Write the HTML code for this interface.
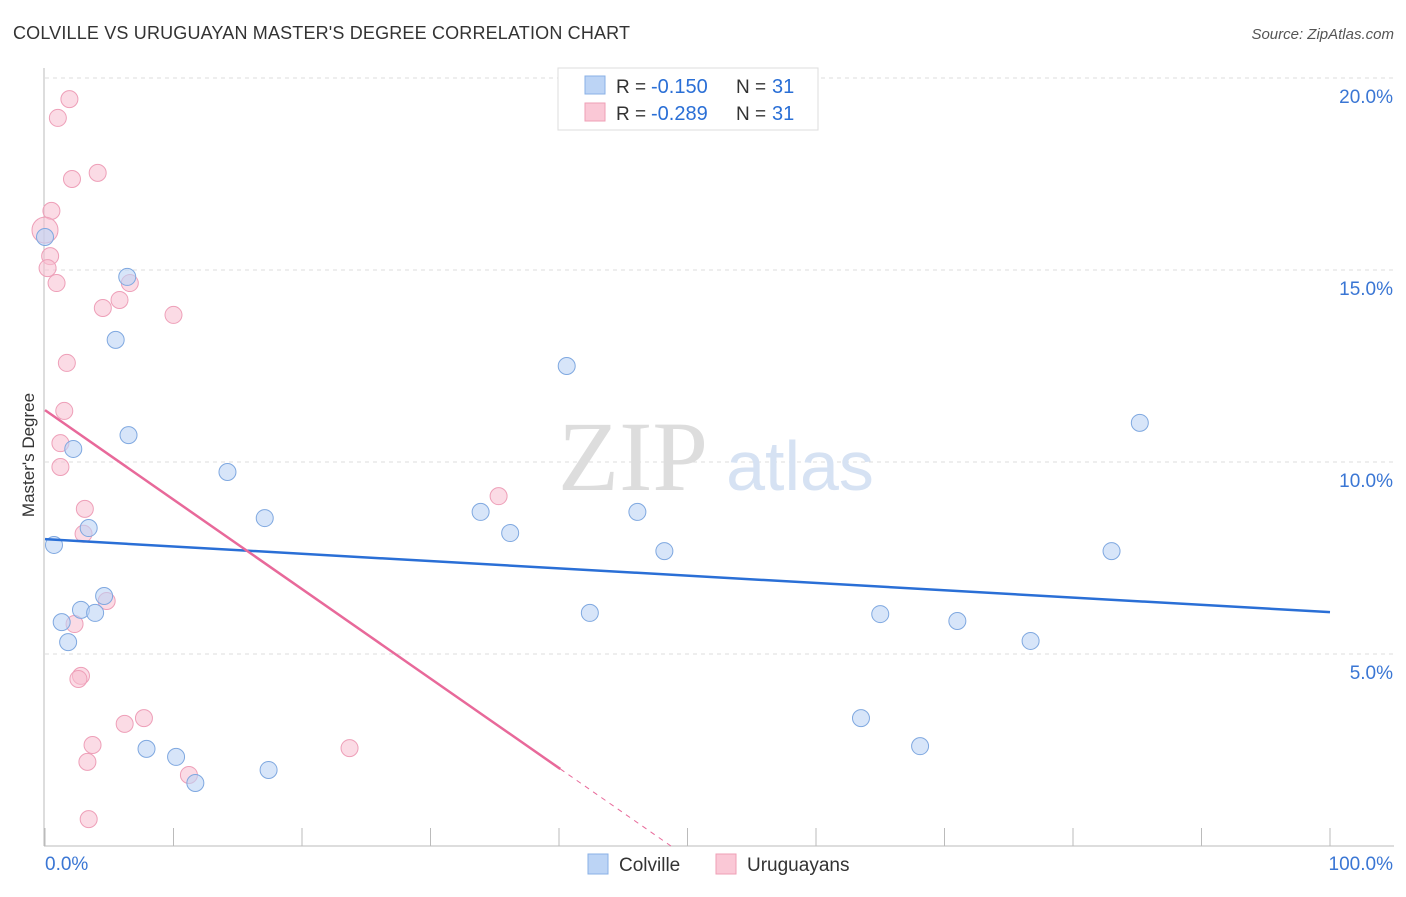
<!DOCTYPE html>
<html><head><meta charset="utf-8"><style>
body{margin:0;background:#fff;font-family:"Liberation Sans",sans-serif;}
</style></head><body>
<svg width="1406" height="892" xmlns="http://www.w3.org/2000/svg">
<text x="13" y="39" font-size="18" fill="#333" textLength="617">COLVILLE VS URUGUAYAN MASTER'S DEGREE CORRELATION CHART</text>
<text x="1394" y="39" font-size="15" fill="#555" font-style="italic" text-anchor="end">Source: ZipAtlas.com</text>
<g id="grid"></g>
<text x="633" y="490" font-size="100" fill="#ddd" font-family="Liberation Serif" text-anchor="middle">ZIP</text>
<text x="800" y="490" font-size="70" fill="#d6e2f3" text-anchor="middle">atlas</text>
<text transform="translate(34,455) rotate(-90)" font-size="17" fill="#333" text-anchor="middle">Master's Degree</text>
<g id="marks"></g>
<g>
<rect x="558" y="68" width="260" height="62" fill="#fff" stroke="#ddd"/>
<rect x="585" y="76" width="20" height="18" fill="#bcd4f5" stroke="#8ab0e6"/>
<rect x="585" y="103" width="20" height="18" fill="#fac8d6" stroke="#ef9fb6"/>
<text x="616" y="93" font-size="19" fill="#333">R =</text>
<text x="651" y="93" font-size="20" fill="#2a6fd6">-0.150</text>
<text x="736" y="93" font-size="19" fill="#333">N =</text>
<text x="772" y="93" font-size="20" fill="#2a6fd6">31</text>
<text x="616" y="120" font-size="19" fill="#333">R =</text>
<text x="651" y="120" font-size="20" fill="#2a6fd6">-0.289</text>
<text x="736" y="120" font-size="19" fill="#333">N =</text>
<text x="772" y="120" font-size="20" fill="#2a6fd6">31</text>
</g>
<g>
<rect x="588" y="854" width="20" height="20" fill="#bcd4f5" stroke="#8ab0e6"/>
<text x="619" y="871" font-size="19" fill="#333">Colville</text>
<rect x="716" y="854" width="20" height="20" fill="#fac8d6" stroke="#ef9fb6"/>
<text x="747" y="871" font-size="19" fill="#333">Uruguayans</text>
</g>
</svg>
<script>
const yTicks=[5,10,15,20];
const xLabels=["0.0%","100.0%"];
const blueX=[0,6.4,5.5,2.2,6.5,14.2,0.7,3.4,17.1,33.9,36.2,40.6,46.1,48.2,85.2,83.0,4.6,2.8,3.9,1.3,1.8,42.4,65.0,71.0,76.7,63.5,68.1,7.9,10.2,11.7,17.4];
const blueY=[15.86,14.82,13.18,10.34,10.70,9.74,7.84,8.28,8.54,8.70,8.15,12.5,8.70,7.68,11.02,7.68,6.51,6.15,6.07,5.83,5.31,6.07,6.04,5.86,5.34,3.33,2.60,2.53,2.32,1.64,1.98];
const pinkX=[1.9,1.0,2.1,4.1,0.5,0.0,0.4,0.2,0.9,6.6,5.8,4.5,10.0,1.7,1.5,1.2,1.2,35.3,3.1,3.0,4.8,2.3,2.8,2.6,7.7,6.2,3.7,23.7,3.3,11.2,3.4];
const pinkY=[19.45,18.96,17.37,17.53,16.54,16.04,15.36,15.05,14.66,14.66,14.22,14.01,13.83,12.58,11.33,10.49,9.87,9.11,8.78,8.13,6.38,5.78,4.43,4.35,3.33,3.18,2.63,2.55,2.19,1.85,0.70];
const blueTrend=[7.99,6.09];
const pinkTrend=[11.35,-0.233];
const NS="http://www.w3.org/2000/svg";
const X=v=>45+v*12.85, Y=v=>846-v*38.4;
function mk(t,a,p){const e=document.createElementNS(NS,t);for(const k in a)e.setAttribute(k,a[k]);p.appendChild(e);return e;}
const g=document.getElementById('grid'), m=document.getElementById('marks');
yTicks.forEach(t=>{
 const l=mk('line',{x1:45,x2:1394,y1:Y(t),y2:Y(t),stroke:'#ddd','stroke-dasharray':'4,4'},g);
 
 
 const tx=mk('text',{x:1393,y:Y(t)+25,'font-size':19,fill:'#3a76d4','text-anchor':'end'},g);tx.textContent=t.toFixed(1)+'%';
 
 
});
mk('line',{x1:44,x2:44,y1:68,y2:846,stroke:'#bbb'},g);
mk('line',{x1:44,x2:1394,y1:846,y2:846,stroke:'#bbb'},g);
for(let i=0;i<=10;i++){const t=mk('line',{x1:X(i*10),x2:X(i*10),y1:828,y2:846,stroke:'#bbb'},g);
 
 }
const xl0=mk('text',{x:45,y:870,'font-size':19,fill:'#3a76d4'},g);xl0.textContent=xLabels[0];


const xl1=mk('text',{x:1393,y:870,'font-size':19,fill:'#3a76d4','text-anchor':'end'},g);xl1.textContent=xLabels[1];


pinkX.forEach((v,i)=>{const c=mk('circle',{cx:X(v),cy:Y(pinkY[i]),r:i==5?13:8.5,fill:'rgba(248,190,208,0.55)',stroke:'#ee9fb8','stroke-width':1},m);
 
 });
blueX.forEach((v,i)=>{const c=mk('circle',{cx:X(v),cy:Y(blueY[i]),r:8.5,fill:'rgba(188,212,245,0.6)',stroke:'#7fa8e0','stroke-width':1},m);
 
 });
const bl=mk('line',{x1:X(0),y1:Y(blueTrend[0]),x2:X(100),y2:Y(blueTrend[1]),stroke:'#2a6fd6','stroke-width':2.5},m);


const xe=40.1, xd=-pinkTrend[0]/pinkTrend[1];
const pl=mk('line',{x1:X(0),y1:Y(pinkTrend[0]),x2:X(xe),y2:Y(pinkTrend[0]+pinkTrend[1]*xe),stroke:'#e8699a','stroke-width':2.5},m);


const pd=mk('line',{x1:X(xe),y1:Y(pinkTrend[0]+pinkTrend[1]*xe),x2:X(xd),y2:Y(0),stroke:'#e8699a','stroke-width':1,'stroke-dasharray':'5,5'},m);


</script>
</body></html>
